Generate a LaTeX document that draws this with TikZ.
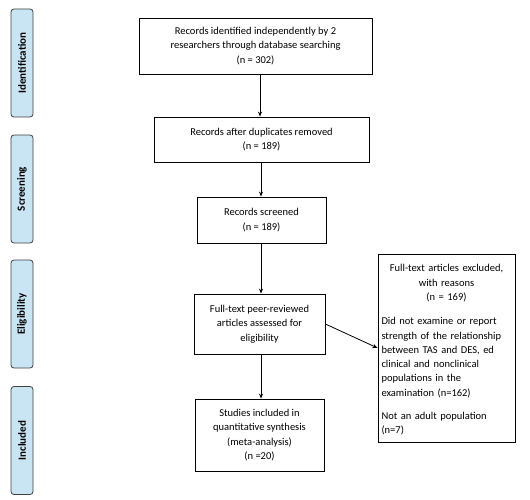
\documentclass[tikz,border=0pt]{standalone}
\usepackage{fontspec}
\setmainfont{Carlito}
\usetikzlibrary{arrows.meta}
\definecolor{bandblue}{HTML}{C9E5F4}
\begin{document}
\begin{tikzpicture}[x=1pt,y=-1pt,
  font=\fontsize{10.5}{14.3}\selectfont,
  box/.style={draw, line width=0.8pt, align=center, inner sep=0pt},
  band/.style={draw=black!75, line width=0.8pt, fill=bandblue, rounded corners=3pt, minimum width=22pt, minimum height=108pt, inner sep=0pt},
  bandtxt/.style={rotate=90, font=\fontsize{11}{12}\selectfont\bfseries},
  arr/.style={-{Stealth[length=5pt,width=4pt]}, line width=0.8pt}]
\useasboundingbox (0,0) rectangle (530,500);
% side bands
\node[band] (sb1) at (22,63) {};
\node[bandtxt] at (sb1) {Identification};
\node[band] (sb2) at (22,189) {};
\node[bandtxt] at (sb2) {Screening};
\node[band] (sb3) at (22,314) {};
\node[bandtxt] at (sb3) {Eligibility};
\node[band] (sb4) at (22,440.5) {};
\node[bandtxt] at (sb4) {Included};
% boxes
\node[box, minimum width=233pt, minimum height=56pt] (b1) at (255.5,46)
  {Records identified independently by 2\\researchers through database searching\\(n = 302)};
\node[box, minimum width=215pt, minimum height=45pt] (b2) at (261.5,139.5)
  {Records after duplicates removed\\(n = 189)};
\node[box, minimum width=129pt, minimum height=46pt] (b3) at (261.5,220)
  {Records screened\\(n = 189)};
\node[box, minimum width=131pt, minimum height=60pt] (b4) at (259.5,324)
  {Full-text peer-reviewed\\articles assessed for\\eligibility};
\node[box, minimum width=129pt, minimum height=72pt] (b5) at (259.5,435)
  {Studies included in\\quantitative synthesis\\(meta-analysis)\\(n =20)};
\node[draw, line width=0.8pt, minimum width=137pt, minimum height=188pt, inner sep=0pt] (ex) at (446.5,348) {};
\node[text width=130pt, align=left, anchor=north] (ext) at (446.5,261)
  {\centering Full-text articles excluded,\\with reasons\\(n = 169)\par\vspace{10pt}\raggedright
   Did not examine or report\\strength of the relationship\\between TAS and DES, ed\\clinical and nonclinical\\populations in the\\examination (n=162)\par\vspace{9pt}
   Not an adult population\\(n=7)\par};
% arrows
\draw[arr] (b1.south -| 260,0) -- (b2.north -| 260,0);
\draw[arr] (b2.south -| 261,0) -- (b3.north -| 261,0);
\draw[arr] (b3.south -| 261,0) -- (b4.north -| 261,0);
\draw[arr] (b4.south -| 261,0) -- (b5.north -| 261,0);
\draw[arr] (b4.east) -- (ex.west);
\end{tikzpicture}
\end{document}
